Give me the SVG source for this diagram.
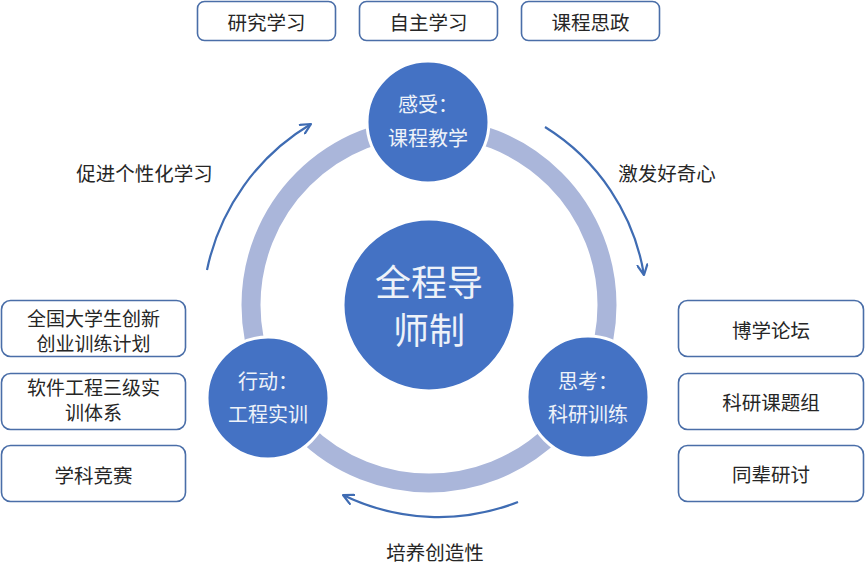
<svg xmlns="http://www.w3.org/2000/svg" width="865" height="576" viewBox="0 0 865 576">
<defs>
<style>
.box{fill:#fff;stroke:#4a6ea8;stroke-width:1.6}
.t{font-family:"Noto Sans CJK SC","Noto Sans",sans-serif;font-size:19.5px;fill:#262626;text-anchor:middle;dominant-baseline:central}
.t2{font-size:19px}
.c{fill:#4472c4;stroke:#fff;stroke-width:3}
.ct{font-family:"Noto Sans CJK SC","Noto Sans",sans-serif;font-size:20px;fill:#eef2f9;text-anchor:middle;dominant-baseline:central}
.big{font-size:36px}
.arr{fill:none;stroke:#3f6cb3;stroke-width:2.2;marker-end:url(#ah)}
</style>
<marker id="ah" viewBox="0 0 12 12" refX="11" refY="6" markerWidth="12" markerHeight="12" markerUnits="userSpaceOnUse" orient="auto">
<path d="M1,1 L11,6 L1,11" fill="none" stroke="#3f6cb3" stroke-width="2.2" stroke-linecap="round" stroke-linejoin="round"/>
</marker>
</defs>
<rect width="865" height="576" fill="#fff"/>
<circle id="ring" cx="429" cy="305" r="178" fill="none" stroke="#aab6da" stroke-width="19"/>
<g id="connectors">
<path class="arr" d="M207 270 A222 222 0 0 1 311 124"/>
<path class="arr" d="M545 127 A215 215 0 0 1 644 275"/>
<path class="arr" d="M518 502 A218 218 0 0 1 343 495"/>
</g>
<g id="labels">
<text class="t" x="144.5" y="172">促进个性化学习</text>
<text class="t" x="667" y="172">激发好奇心</text>
<text class="t" x="435" y="551">培养创造性</text>
</g>
<g id="center">
<circle class="c" cx="429" cy="305" r="86"/>
<text class="ct big" x="429" y="280">全程导</text>
<text class="ct big" x="429" y="328">师制</text>
</g>
<g id="top">
<circle class="c" cx="428" cy="122" r="61"/>
<text class="ct" x="428" y="103">感受：</text>
<text class="ct" x="428" y="137">课程教学</text>
</g>
<g id="left">
<circle class="c" cx="268" cy="398" r="61"/>
<text class="ct" x="268" y="380">行动：</text>
<text class="ct" x="268" y="413">工程实训</text>
</g>
<g id="right">
<circle class="c" cx="588" cy="397" r="61"/>
<text class="ct" x="588" y="380">思考：</text>
<text class="ct" x="588" y="413">科研训练</text>
</g>
<g id="box-yjxx"><rect class="box" x="197.5" y="1.5" width="138" height="39" rx="7"/><text class="t" x="266.5" y="21">研究学习</text></g>
<g id="box-zzxx"><rect class="box" x="359.5" y="1.5" width="138" height="39" rx="7"/><text class="t" x="428.5" y="21">自主学习</text></g>
<g id="box-kcsz"><rect class="box" x="521.5" y="1.5" width="138" height="39" rx="7"/><text class="t" x="590.5" y="21">课程思政</text></g>
<g id="box-cx"><rect class="box" x="1.5" y="300.5" width="184" height="56" rx="9"/><text class="t t2" x="93.5" y="317">全国大学生创新</text><text class="t t2" x="93.5" y="342">创业训练计划</text></g>
<g id="box-rj"><rect class="box" x="1.5" y="373.5" width="184" height="56" rx="9"/><text class="t t2" x="93.5" y="386">软件工程三级实</text><text class="t t2" x="93.5" y="411">训体系</text></g>
<g id="box-xk"><rect class="box" x="1.5" y="445.5" width="184" height="56" rx="9"/><text class="t" x="93.5" y="474">学科竞赛</text></g>
<g id="box-bx"><rect class="box" x="678.5" y="300.5" width="185" height="56" rx="9"/><text class="t" x="771" y="329">博学论坛</text></g>
<g id="box-ky"><rect class="box" x="678.5" y="373.5" width="185" height="56" rx="9"/><text class="t" x="771" y="401">科研课题组</text></g>
<g id="box-tb"><rect class="box" x="678.5" y="445.5" width="185" height="56" rx="9"/><text class="t" x="771" y="473">同辈研讨</text></g>
</svg>
